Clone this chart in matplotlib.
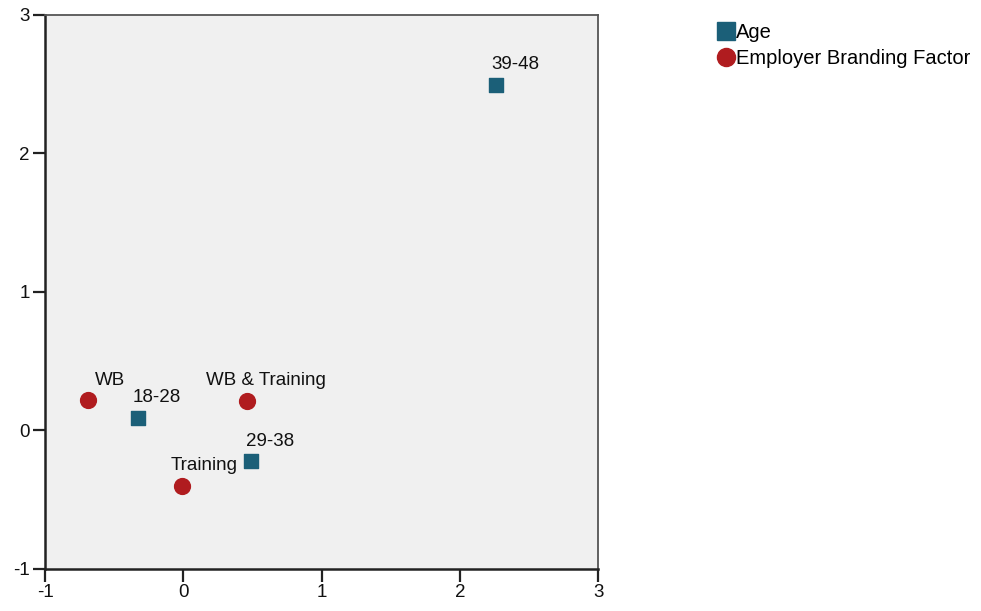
import matplotlib.pyplot as plt
from matplotlib.lines import Line2D

plt.rcParams['font.family'] = ['Liberation Sans', 'DejaVu Sans']
plt.rcParams['axes.unicode_minus'] = False

# Age categories (squares)
age_labels = ['18-28', '29-38', '39-48']
age_x = [-0.33, 0.49, 2.26]
age_y = [0.09, -0.22, 2.49]

# Employer branding factor categories (circles)
ebf_labels = ['WB', 'WB & Training', 'Training']
ebf_x = [-0.69, 0.46, -0.01]
ebf_y = [0.22, 0.21, -0.40]

# label offsets in points (layout only), text baseline relative to marker
age_offsets = [(-3.6, 11.5), (-3.6, 10.8), (-3.6, 11.5)]
ebf_offsets = [(5, 10.8), (-29.5, 11.5), (-8, 11.5)]

sq_color = '#1b5f78'
dot_color = '#b01c1f'
fs = 13.5

fig = plt.figure(figsize=(9.81, 6.11), dpi=100)
ax = fig.add_axes([0.046, 0.069, 0.564, 0.907])
ax.set_facecolor('#f0f0f0')

ax.scatter(age_x, age_y, marker='s', s=110, color=sq_color, zorder=3)
ax.scatter(ebf_x, ebf_y, marker='o', s=130, color=dot_color, zorder=3)

for lab, x, y, off in zip(age_labels, age_x, age_y, age_offsets):
    ax.annotate(lab, (x, y), xytext=off, textcoords='offset points',
                fontsize=fs, ha='left', va='baseline', color='#111111')
for lab, x, y, off in zip(ebf_labels, ebf_x, ebf_y, ebf_offsets):
    ax.annotate(lab, (x, y), xytext=off, textcoords='offset points',
                fontsize=fs, ha='left', va='baseline', color='#111111')

ax.set_xlim(-1, 3)
ax.set_ylim(-1, 3)
ax.set_xticks([-1, 0, 1, 2, 3])
ax.set_yticks([-1, 0, 1, 2, 3])
ax.tick_params(direction='out', length=9, width=1.6, pad=2, labelsize=fs,
               color='#222222', labelcolor='#111111')
for side in ['top', 'right']:
    ax.spines[side].set_color('#555555')
    ax.spines[side].set_linewidth(1.3)
for side in ['left', 'bottom']:
    ax.spines[side].set_color('#222222')
    ax.spines[side].set_linewidth(1.8)

handles = [
    Line2D([], [], marker='s', linestyle='none', color=sq_color, markersize=13, label='Age'),
    Line2D([], [], marker='o', linestyle='none', color=dot_color, markersize=13,
           label='Employer Branding Factor'),
]
fig.legend(handles=handles, loc='upper left', bbox_to_anchor=(0.730, 0.962),
           frameon=False, fontsize=14.5, handletextpad=0.0, labelspacing=0.35,
           handlelength=1.0, borderaxespad=0, borderpad=0)

fig.savefig('out.png', dpi=100)
